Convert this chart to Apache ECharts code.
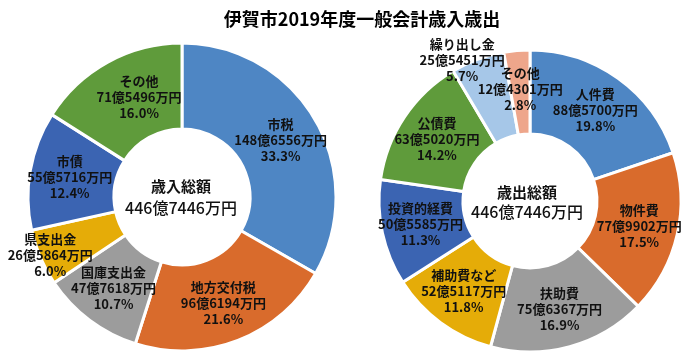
<!DOCTYPE html>
<html>
<head>
<meta charset="utf-8">
<script src="https://cdn.jsdelivr.net/npm/echarts@6/dist/echarts.min.js"></script>
<style>
html,body{margin:0;padding:0;background:#fff;}
#chart{width:700px;height:355px;}
</style>
</head>
<body>
<div id="chart"></div>
<script>
// Data (values in 万円)
const chartTitle = '伊賀市2019年度一般会計歳入歳出';
const revenueCategories = ['市税', '地方交付税', '国庫支出金', '県支出金', '市債', 'その他'];
const revenueValues = [1486556, 966194, 477618, 265864, 555716, 715496];
const revenueTotalLabel = '歳入総額';
const revenueTotalText = '446億7446万円';

const expenseCategories = ['人件費', '物件費', '扶助費', '補助費など', '投資的経費', '公債費', '繰り出し金', 'その他'];
const expenseValues = [885700, 779902, 756367, 525117, 505585, 635020, 255451, 124301];
const expenseTotalLabel = '歳出総額';
const expenseTotalText = '446億7446万円';

const revenueColors = ['#4E86C4', '#D96B2C', '#9C9C9C', '#E5AC08', '#3B64B2', '#5F9B3B'];
const expenseColors = ['#4E86C4', '#D96B2C', '#9C9C9C', '#E5AC08', '#3B64B2', '#5F9B3B', '#A6C7E8', '#EEA68B'];

const FONT = '"Noto Sans CJK JP", "Noto Sans", sans-serif';

function fmtYen(v) {
  const oku = Math.floor(v / 10000);
  const man = String(v % 10000).padStart(4, '0');
  return oku + '億' + man + '万円';
}
function makeData(cats, vals) {
  return cats.map((c, i) => ({ name: c, value: vals[i] }));
}
function makeFormatter(vals) {
  const total = vals.reduce((a, b) => a + b, 0);
  return function (p) {
    return p.name + '\n' + fmtYen(p.value) + '\n' + (p.value / total * 100).toFixed(1) + '%';
  };
}
// label nudges (layout only)
const revenueNudge = { 3: [-27, 13], 5: [12, 0] };
const expenseNudge = { 6: [-29, -36] };

const labelStyle = {
  show: true,
  position: 'inside',
  color: '#111',
  fontFamily: FONT,
  fontWeight: 'bold',
  fontSize: 13,
  lineHeight: 16
};

const chart = echarts.init(document.getElementById('chart'), null, { renderer: 'canvas' });
chart.setOption({
  animation: false,
  color: revenueColors,
  graphic: [
    { type: 'text', x: 362, y: 19, style: { text: chartTitle, textAlign: 'center', textVerticalAlign: 'middle', font: 'bold 18px ' + FONT, fill: '#000' } },
    { type: 'text', x: 181, y: 186, z: 10, style: { text: revenueTotalLabel, textAlign: 'center', textVerticalAlign: 'middle', font: 'bold 15px ' + FONT, fill: '#111' } },
    { type: 'text', x: 181, y: 208, z: 10, style: { text: revenueTotalText, textAlign: 'center', textVerticalAlign: 'middle', font: '500 16px ' + FONT, fill: '#111' } },
    { type: 'text', x: 527, y: 192, z: 10, style: { text: expenseTotalLabel, textAlign: 'center', textVerticalAlign: 'middle', font: 'bold 15px ' + FONT, fill: '#111' } },
    { type: 'text', x: 527, y: 212, z: 10, style: { text: expenseTotalText, textAlign: 'center', textVerticalAlign: 'middle', font: '500 16px ' + FONT, fill: '#111' } }
  ],
  series: [
    {
      type: 'pie',
      center: [182, 197],
      radius: [68, 154],
      startAngle: 90,
      clockwise: true,
      avoidLabelOverlap: false,
      itemStyle: { borderColor: '#fff', borderWidth: 3 },
      label: Object.assign({}, labelStyle, { formatter: makeFormatter(revenueValues) }),
      labelLine: { show: false },
      emphasis: { disabled: true },
      labelLayout: function (p) {
        const n = revenueNudge[p.dataIndex];
        return n ? { dx: n[0], dy: n[1] } : {};
      },
      data: makeData(revenueCategories, revenueValues).map((d, i) => Object.assign(d, { itemStyle: { color: revenueColors[i] } }))
    },
    {
      type: 'pie',
      center: [530, 201],
      radius: [67, 151],
      startAngle: 90,
      clockwise: true,
      avoidLabelOverlap: false,
      itemStyle: { borderColor: '#fff', borderWidth: 3 },
      label: Object.assign({}, labelStyle, { formatter: makeFormatter(expenseValues) }),
      labelLine: { show: false },
      emphasis: { disabled: true },
      labelLayout: function (p) {
        const n = expenseNudge[p.dataIndex];
        return n ? { dx: n[0], dy: n[1] } : {};
      },
      data: makeData(expenseCategories, expenseValues).map((d, i) => Object.assign(d, { itemStyle: { color: expenseColors[i] } }))
    }
  ]
});
</script>
</body>
</html>
